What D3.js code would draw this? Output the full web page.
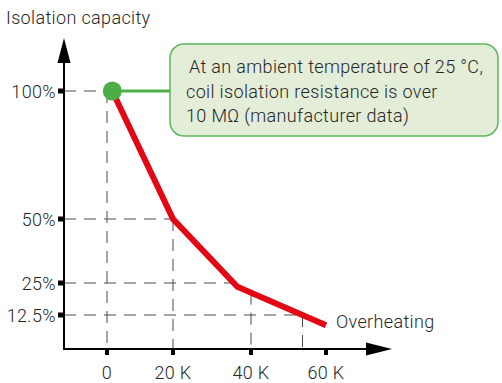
<!DOCTYPE html>
<html>
<head>
<meta charset="utf-8">
<script src="https://cdn.jsdelivr.net/npm/d3@7/dist/d3.min.js"></script>
<style>
  html, body { margin: 0; padding: 0; background: #fff; }
  svg { display: block; }
  text { font-family: "Roboto", "Liberation Sans", Arial, sans-serif; font-weight: 300; fill: #262626; letter-spacing: 0.35px; }
</style>
</head>
<body>
<svg id="chart" width="502" height="383"></svg>
<script>
// Overheating (K) on the x axis, remaining isolation capacity (%) on the y axis
const xTicks = [0, 20, 40, 60];
const xTickLabels = ["0", "20 K", "40 K", "60 K"];
const yTicks = [100, 50, 25, 12.5];
const yTickLabels = ["100%", "50%", "25%", "12.5%"];

// Red degradation curve
const overheating = [1.6, 20, 36.5, 60];
const capacity = [100, 50, 23.5, 8.5];

const yAxisTitle = "Isolation capacity";
const xAxisTitle = "Overheating";
const noteLines = [
  "At an ambient temperature of 25 °C,",
  "coil isolation resistance is over",
  "10 MΩ (manufacturer data)"
];

const svg = d3.select("#chart");

// Axis ticks on the drawing are not evenly spaced, so a polylinear scale is used
const x = d3.scaleLinear().domain(xTicks).range([107, 173, 251, 326]);
const y = d3.scaleLinear().domain([0, 100]).range([347, 91]);

const axisX = 64, axisY = 349;

const points = overheating.map((d, i) => [d, capacity[i]]);

// Where the curve reaches a given capacity level
function curveAtLevel(v) {
  for (let i = 0; i < points.length - 1; i++) {
    const [x0, y0] = points[i], [x1, y1] = points[i + 1];
    if (v <= y0 && v >= y1) return x0 + (x1 - x0) * (y0 - v) / (y0 - y1);
  }
  return points[points.length - 1][0];
}
// Curve value at a given overheating
function curveAtX(t) {
  for (let i = 0; i < points.length - 1; i++) {
    const [x0, y0] = points[i], [x1, y1] = points[i + 1];
    if (t >= x0 && t <= x1) return y0 + (y1 - y0) * (t - x0) / (x1 - x0);
  }
  return t < points[0][0] ? points[0][1] : points[points.length - 1][1];
}

const guides = svg.append("g")
  .attr("stroke", "#4a4a4a")
  .attr("stroke-width", 1)
  .attr("stroke-dasharray", "12,8")
  .attr("fill", "none");

// Horizontal guides from the axis to the curve
guides.selectAll("line.h").data(yTicks).join("line")
  .attr("class", "h")
  .attr("x1", axisX).attr("x2", d => x(curveAtLevel(d)))
  .attr("y1", d => y(d)).attr("y2", d => y(d));

// Vertical guides from the curve down to the axis
const vGuides = [
  { t: 0, top: 100 },
  { t: 20, top: 50 },
  { t: 40, top: curveAtX(40) },
  { t: curveAtLevel(12.5), top: 12.5 }
];
guides.selectAll("line.v").data(vGuides).join("line")
  .attr("class", "v")
  .attr("x1", d => x(d.t)).attr("x2", d => x(d.t))
  .attr("y1", d => y(d.top)).attr("y2", axisY);

// Axes with arrowheads
const axes = svg.append("g");
axes.append("line")
  .attr("x1", axisX).attr("x2", axisX)
  .attr("y1", axisY + 1).attr("y2", 60)
  .attr("stroke", "#000").attr("stroke-width", 2);
axes.append("line")
  .attr("x1", axisX - 1).attr("x2", 370)
  .attr("y1", axisY).attr("y2", axisY)
  .attr("stroke", "#000").attr("stroke-width", 2);
axes.append("path")
  .attr("d", `M${axisX},38 L${axisX - 6.5},63 L${axisX + 6.5},63 Z`)
  .attr("fill", "#000");
axes.append("path")
  .attr("d", `M392,${axisY} L366,${axisY - 6.5} L366,${axisY + 6.5} Z`)
  .attr("fill", "#000");

// Tick marks
axes.selectAll("rect.xt").data(xTicks).join("rect")
  .attr("class", "xt")
  .attr("x", d => x(d) - 2).attr("y", axisY)
  .attr("width", 4).attr("height", 6)
  .attr("fill", "#000");
axes.selectAll("rect.yt").data(yTicks).join("rect")
  .attr("class", "yt")
  .attr("x", axisX - 6).attr("y", d => y(d) - 2.5)
  .attr("width", 6).attr("height", 5)
  .attr("fill", "#000");

// Tick labels
svg.selectAll("text.xl").data(xTickLabels).join("text")
  .attr("class", "xl")
  .attr("x", (d, i) => x(xTicks[i]))
  .attr("y", 379)
  .attr("text-anchor", "middle")
  .attr("font-size", 18)
  .text(d => d);
svg.selectAll("text.yl").data(yTickLabels).join("text")
  .attr("class", "yl")
  .attr("x", 56)
  .attr("y", (d, i) => y(yTicks[i]) + 6.5)
  .attr("text-anchor", "end")
  .attr("font-size", 18)
  .text(d => d);

// Axis titles
svg.append("text")
  .attr("x", 6).attr("y", 24)
  .attr("font-size", 18)
  .text(yAxisTitle);
svg.append("text")
  .attr("x", 336).attr("y", 328)
  .attr("font-size", 18)
  .text(xAxisTitle);

// Degradation curve
svg.append("path")
  .datum(points)
  .attr("d", d3.line().x(d => x(d[0])).y(d => y(d[1])))
  .attr("fill", "none")
  .attr("stroke", "#e30613")
  .attr("stroke-width", 6)
  .attr("stroke-linejoin", "miter");

// Callout connector, note box and start marker
const start = points[0];
svg.append("line")
  .attr("x1", x(start[0])).attr("x2", 171)
  .attr("y1", y(start[1])).attr("y2", y(start[1]))
  .attr("stroke", "#4cae47").attr("stroke-width", 3);

svg.append("rect")
  .attr("x", 170).attr("y", 44)
  .attr("width", 328).attr("height", 92)
  .attr("rx", 14).attr("ry", 14)
  .attr("fill", "#e3edd8")
  .attr("stroke", "#5cb85a")
  .attr("stroke-width", 1.5);

svg.append("g").selectAll("text").data(noteLines).join("text")
  .attr("x", (d, i) => i === 0 ? 189 : 186)
  .attr("y", (d, i) => 73 + i * 24.5)
  .attr("font-size", 18)
  .text(d => d);

svg.append("circle")
  .attr("cx", x(start[0])).attr("cy", y(start[1]))
  .attr("r", 9.5)
  .attr("fill", "#4cae47");
</script>
</body>
</html>
